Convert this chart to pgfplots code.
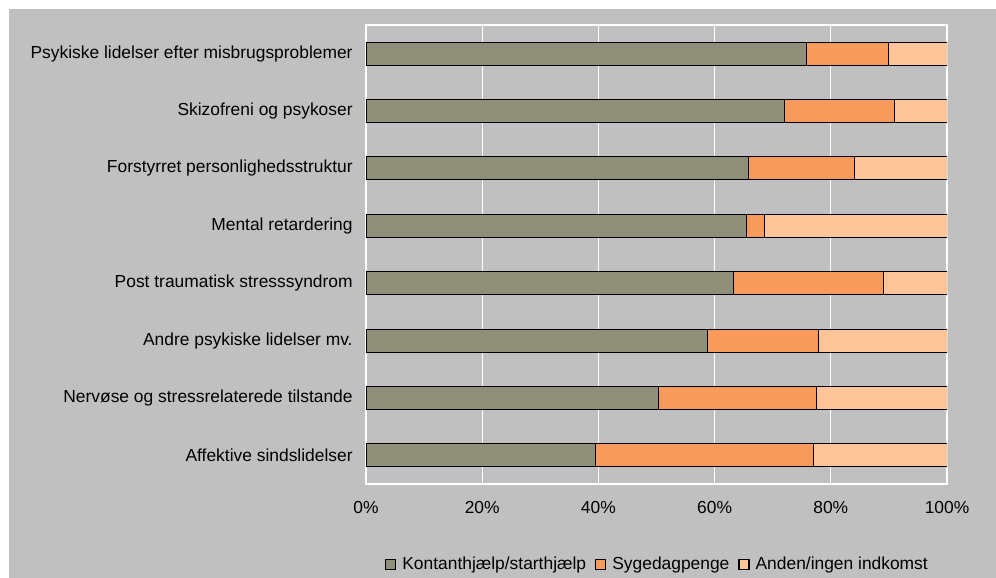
\documentclass[border=0pt]{standalone}
\usepackage{pgfplots}
\pgfplotsset{compat=1.18}
\usepackage{fontspec}
\setmainfont{Liberation Sans}
\definecolor{bg}{HTML}{C0C0C0}
\definecolor{cA}{HTML}{8F8F7A}
\definecolor{cB}{HTML}{F79A5C}
\definecolor{cC}{HTML}{FDC49A}
\pgfplotstableread{
y a b c
0 39.5 37.5 23.0
1 50.4 27.1 22.5
2 58.8 19.1 22.1
3 63.3 25.7 11.0
4 65.5 3.1 31.4
5 65.9 18.1 16.0
6 72.0 19.0 9.0
7 75.9 14.0 10.1
}\datatable
\begin{document}
\begin{tikzpicture}
\useasboundingbox (0,0) rectangle (498pt,289pt);
\fill[white] (0,0) rectangle (498pt,289pt);
\fill[bg] (4.5pt,0) rectangle (498pt,284.5pt);
\begin{axis}[
  at={(183pt,47pt)}, anchor=south west,
  scale only axis, width=290.5pt, height=229.5pt,
  xbar stacked, bar width=11.5pt,
  xmin=0, xmax=100, ymin=-0.5, ymax=7.5,
  xtick={0,20,40,60,80,100},
  xticklabel={\pgfmathprintnumber{\tick}\%},
  ytick={0,1,2,3,4,5,6,7},
  yticklabels={Affektive sindslidelser,Nervøse og stressrelaterede tilstande,Andre psykiske lidelser mv.,Post traumatisk stresssyndrom,Mental retardering,Forstyrret personlighedsstruktur,Skizofreni og psykoser,Psykiske lidelser efter misbrugsproblemer},
  /pgf/number format/assume math mode=true,
  tick label style={font=\fontsize{8.7}{10}\selectfont, text=black},
  xticklabel style={anchor=north, inner sep=0pt, yshift=-8.5pt},
  yticklabel style={anchor=east, inner sep=0pt, xshift=-6.5pt},
  major tick length=0pt,
  axis background/.style={fill=bg},
  axis line style={white, line width=0.6pt},
  xmajorgrids, major grid style={white, line width=0.6pt},
  legend columns=-1,
  legend style={at={(0.5,-0.175)}, anchor=center, draw=none, fill=none,
    font=\fontsize{8.7}{10}\selectfont, inner sep=0pt,
    nodes={inner sep=0pt},
    /tikz/every odd column/.append style={column sep=3pt},
    /tikz/every even column/.append style={column sep=4.5pt}},
  legend image code/.code={\draw[#1, draw=black, line width=0.6pt] (0pt,-2.5pt) rectangle (5pt,2.5pt);},
]
\addplot[fill=cA, draw=black, line width=0.5pt] table[x=a, y=y] {\datatable};
\addplot[fill=cB, draw=black, line width=0.5pt] table[x=b, y=y] {\datatable};
\addplot[fill=cC, draw=black, line width=0.5pt] table[x=c, y=y] {\datatable};
\legend{Kontanthjælp/starthjælp, Sygedagpenge, Anden/ingen indkomst}
\end{axis}
\end{tikzpicture}
\end{document}
